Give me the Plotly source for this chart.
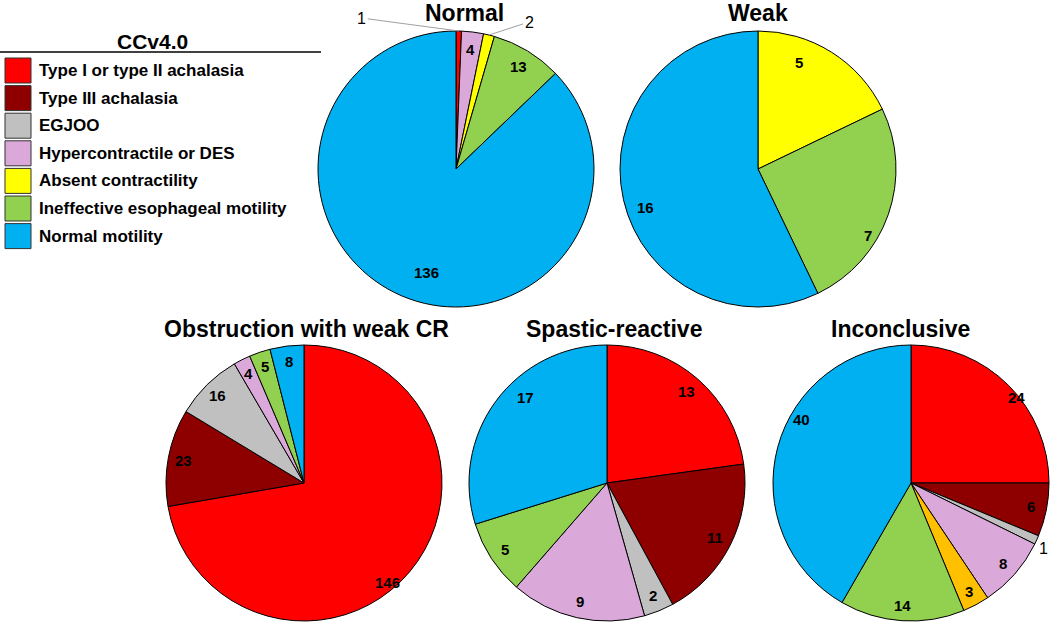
import math
import plotly.graph_objects as go

# ---------------- data ----------------
categories = [
    "Type I or type II achalasia",
    "Type III achalasia",
    "EGJOO",
    "Hypercontractile or DES",
    "Absent contractility",
    "Other",
    "Ineffective esophageal motility",
    "Normal motility",
]
legend_categories = [c for c in categories if c != "Other"]

pie_titles = ["Normal", "Weak", "Obstruction with weak CR", "Spastic-reactive", "Inconclusive"]

normal_values = [1, 0, 0, 4, 2, 0, 13, 136]
weak_values = [0, 0, 0, 0, 5, 0, 7, 16]
obstruction_values = [146, 23, 16, 4, 0, 0, 5, 8]
spastic_values = [13, 11, 2, 9, 0, 0, 5, 17]
inconclusive_values = [24, 6, 1, 8, 0, 3, 14, 40]

all_values = [normal_values, weak_values, obstruction_values, spastic_values, inconclusive_values]

# ---------------- styling ----------------
colors = {
    "Type I or type II achalasia": "#FF0000",
    "Type III achalasia": "#8E0000",
    "EGJOO": "#C0C0C0",
    "Hypercontractile or DES": "#DBA9D9",
    "Absent contractility": "#FFFF00",
    "Other": "#FFC000",
    "Ineffective esophageal motility": "#92D050",
    "Normal motility": "#00B0F0",
}

W, H = 1050, 624
R = 138
centers = [(456, 169), (758, 169), (304, 483), (607, 483), (911, 483)]
title_pos = [(464, 13), (758, 13), (306, 329), (614, 329), (900, 329)]
FONT = "Arial, Liberation Sans, sans-serif"
label_r = [0.87, 0.87, 0.89, 0.88, 0.89]
# special label handling: (pie index, category) -> options (angle shift in degrees, radius fraction)
label_opts = {
    (0, "Type I or type II achalasia"): {"leader": (-97, -13)},
    (0, "Absent contractility"): {"leader": (40, -13)},
    (0, "Normal motility"): {"r": 0.78, "da": -7},
    (1, "Absent contractility"): {"r": 0.83, "da": -11},
    (1, "Ineffective esophageal motility"): {"r": 0.93, "da": 12},
    (1, "Normal motility"): {"r": 0.86, "da": -6},
    (2, "Type I or type II achalasia"): {"r": 0.94, "da": 10},
    (3, "Normal motility"): {"r": 0.86, "da": 10},
    (4, "Type I or type II achalasia"): {"r": 0.98, "da": 6},
    (4, "Normal motility"): {"r": 0.92, "da": 15},
    (4, "EGJOO"): {"outside": 1.07, "da": 2},
}


def px(x, y):
    return x / W, 1 - y / H


fig = go.Figure()
annotations = []
shapes = []

for i, (title, vals) in enumerate(zip(pie_titles, all_values)):
    cx, cy = centers[i]
    labs = [c for c, v in zip(categories, vals) if v > 0]
    vs = [v for v in vals if v > 0]
    fig.add_trace(go.Pie(
        labels=labs,
        values=vs,
        sort=False,
        direction="clockwise",
        rotation=0,
        textinfo="none",
        hoverinfo="label+value",
        showlegend=False,
        marker=dict(colors=[colors[c] for c in labs], line=dict(color="#000000", width=1)),
        domain=dict(x=[(cx - R) / W, (cx + R) / W], y=[1 - (cy + R) / H, 1 - (cy - R) / H]),
    ))
    # title
    tx, ty = px(*title_pos[i])
    annotations.append(dict(x=tx, y=ty, xref="paper", yref="paper", text="<b>%s</b>" % title,
                            showarrow=False, xanchor="center", yanchor="middle",
                            font=dict(family=FONT, size=23, color="#000000")))
    # slice labels
    total = sum(vs)
    cum = 0
    for c, v in zip(labs, vs):
        opt = label_opts.get((i, c), {})
        mid = (cum + v / 2) / total * 2 * math.pi + math.radians(opt.get("da", 0))
        cum += v
        if "leader" in opt:
            ex, ey = cx + R * math.sin(mid), cy - R * math.cos(mid)
            x, y = px(ex, ey)
            annotations.append(dict(x=x, y=y, xref="paper", yref="paper", text=str(v),
                                    showarrow=True, arrowhead=0, arrowwidth=1, arrowcolor="#A0A0A0",
                                    ax=opt["leader"][0], ay=opt["leader"][1], standoff=0,
                                    font=dict(family=FONT, size=16, color="#000000")))
            continue
        if "outside" in opt:
            rr = opt["outside"] * R
            x, y = px(cx + rr * math.sin(mid), cy - rr * math.cos(mid))
            annotations.append(dict(x=x, y=y, xref="paper", yref="paper", text=str(v),
                                    showarrow=False, xanchor="center", yanchor="middle",
                                    font=dict(family=FONT, size=16, color="#000000")))
            continue
        rr = opt.get("r", label_r[i]) * R
        x, y = px(cx + rr * math.sin(mid), cy - rr * math.cos(mid))
        annotations.append(dict(x=x, y=y, xref="paper", yref="paper", text="<b>%s</b>" % v,
                                showarrow=False, xanchor="center", yanchor="middle",
                                font=dict(family=FONT, size=15, color="#000000")))

# ---------------- manual legend ----------------
lx, ly = px(152, 42)
annotations.append(dict(x=lx, y=ly, xref="paper", yref="paper", text="<b>CCv4.0</b>",
                        showarrow=False, xanchor="center", yanchor="middle",
                        font=dict(family=FONT, size=21, color="#000000")))
x0, y0 = px(0, 52)
x1, _ = px(321, 52)
shapes.append(dict(type="line", xref="paper", yref="paper", x0=x0, x1=x1, y0=y0, y1=y0,
                   line=dict(color="#000000", width=1.5)))
row0, pitch = 70.5, 27.6
for k, c in enumerate(legend_categories):
    yc = row0 + k * pitch
    bx0, by0 = px(5, yc - 12.5)
    bx1, by1 = px(31, yc + 12.5)
    shapes.append(dict(type="rect", xref="paper", yref="paper", x0=bx0, x1=bx1, y0=by1, y1=by0,
                       fillcolor=colors[c], line=dict(color="#333333", width=1)))
    tx, ty = px(37, yc)
    annotations.append(dict(x=tx, y=ty, xref="paper", yref="paper", text="<b>%s</b>" % c,
                            showarrow=False, xanchor="left", yanchor="middle",
                            font=dict(family=FONT, size=17, color="#000000")))

fig.update_layout(
    width=W, height=H,
    margin=dict(l=0, r=0, t=0, b=0),
    paper_bgcolor="#FFFFFF", plot_bgcolor="#FFFFFF",
    annotations=annotations, shapes=shapes,
    showlegend=False,
)

fig.write_html("out.html", config={"displayModeBar": False},
               post_script="document.body.style.margin='0';document.body.style.overflow='hidden';")
